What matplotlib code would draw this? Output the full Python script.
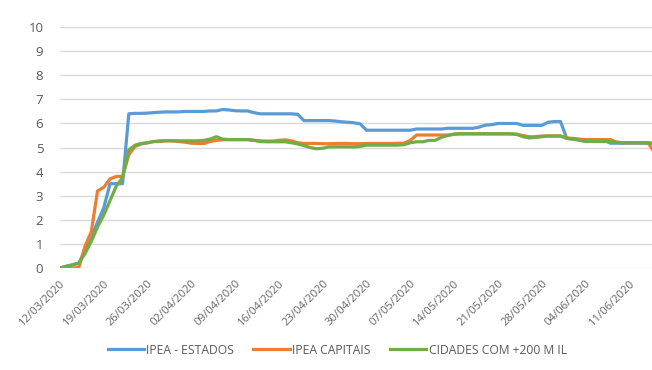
import numpy as np
import pandas as pd
import matplotlib
matplotlib.use("Agg")
import matplotlib.pyplot as plt

# daily series, 12/03/2020 .. 15/06/2020
dates = pd.date_range("2020-03-12", "2020-06-15", freq="D")

ipea_estados = [
    0.0, 0.07, 0.13, 0.2, 0.7, 1.3, 1.9, 2.5, 3.5, 3.5,
    3.5, 6.4, 6.42, 6.42, 6.43, 6.45, 6.47, 6.48, 6.48, 6.48,
    6.5, 6.5, 6.5, 6.5, 6.52, 6.52, 6.58, 6.56, 6.53, 6.52,
    6.52, 6.45, 6.4, 6.4, 6.4, 6.4, 6.4, 6.4, 6.38, 6.12,
    6.12, 6.12, 6.12, 6.12, 6.1, 6.07, 6.05, 6.03, 5.98, 5.72,
    5.72, 5.72, 5.72, 5.72, 5.72, 5.72, 5.72, 5.77, 5.77, 5.77,
    5.77, 5.77, 5.8, 5.8, 5.8, 5.8, 5.8, 5.85, 5.93, 5.95,
    6.0, 6.0, 6.0, 6.0, 5.92, 5.92, 5.92, 5.92, 6.05, 6.08,
    6.08, 5.38, 5.36, 5.33, 5.3, 5.3, 5.3, 5.3, 5.18, 5.18,
    5.18, 5.18, 5.18, 5.18, 5.18, 5.18,
]

ipea_capitais = [
    0.0, 0.0, 0.0, 0.02, 0.9, 1.5, 3.2, 3.35, 3.7, 3.8,
    3.8, 4.7, 5.05, 5.15, 5.2, 5.25, 5.25, 5.28, 5.28, 5.25,
    5.22, 5.18, 5.17, 5.17, 5.25, 5.3, 5.32, 5.33, 5.33, 5.33,
    5.33, 5.3, 5.28, 5.27, 5.27, 5.3, 5.32, 5.28, 5.2, 5.17,
    5.17, 5.17, 5.16, 5.16, 5.17, 5.17, 5.17, 5.16, 5.16, 5.17,
    5.17, 5.17, 5.17, 5.17, 5.18, 5.18, 5.3, 5.52, 5.52, 5.52,
    5.52, 5.52, 5.52, 5.55, 5.57, 5.57, 5.57, 5.57, 5.57, 5.57,
    5.57, 5.57, 5.57, 5.55, 5.5, 5.45, 5.45, 5.48, 5.48, 5.48,
    5.48, 5.4, 5.38, 5.35, 5.33, 5.33, 5.33, 5.33, 5.33, 5.22,
    5.2, 5.2, 5.2, 5.2, 5.2, 4.8,
]

cidades_200mil = [
    0.0, 0.07, 0.13, 0.2, 0.6, 1.1, 1.7, 2.2, 2.8, 3.4,
    3.75, 4.9, 5.1, 5.17, 5.2, 5.25, 5.28, 5.28, 5.28, 5.28,
    5.28, 5.28, 5.28, 5.3, 5.35, 5.45, 5.35, 5.33, 5.33, 5.33,
    5.33, 5.3, 5.25, 5.24, 5.24, 5.24, 5.24, 5.2, 5.15, 5.08,
    5.0, 4.95, 4.97, 5.03, 5.03, 5.03, 5.03, 5.03, 5.05, 5.1,
    5.1, 5.1, 5.1, 5.1, 5.1, 5.12, 5.2, 5.24, 5.24, 5.3,
    5.3, 5.43, 5.5, 5.56, 5.57, 5.57, 5.57, 5.57, 5.57, 5.57,
    5.57, 5.57, 5.57, 5.55, 5.45, 5.4, 5.42, 5.45, 5.48, 5.48,
    5.48, 5.38, 5.35, 5.3, 5.25, 5.25, 5.25, 5.25, 5.25, 5.22,
    5.2, 5.2, 5.2, 5.2, 5.2, 5.15,
]

labels = ["IPEA - ESTADOS", "IPEA CAPITAIS", "CIDADES COM +200 M IL"]
colors = ["#5B9BD5", "#ED7D31", "#70AD47"]

plt.rcParams["font.family"] = ["Open Sans", "DejaVu Sans"]

fig = plt.figure(figsize=(6.52, 3.70), dpi=100)
ax = fig.add_axes([0.092, 0.2757, 0.914, 0.651])

for vals, lab, col in zip([ipea_estados, ipea_capitais, cidades_200mil], labels, colors):
  ax.plot(dates, vals, color=col, lw=2.3, label=lab, solid_joinstyle="round")

ax.set_ylim(0, 10)
ax.set_yticks(range(0, 11))
ax.set_xlim(dates[0], dates[-1] + pd.Timedelta(hours=6))
ticks = dates[::7]
ax.set_xticks(ticks)
ax.set_xticklabels([d.strftime("%d/%m/%Y") for d in ticks], rotation=45, ha="right",
                   rotation_mode="anchor", fontsize=8.1, color="#666666")
ax.tick_params(axis="y", labelsize=9.5, labelcolor="#595959", length=0, pad=12)
ax.tick_params(axis="x", length=0, pad=7)
ax.grid(axis="y", color="#d9d9d9", lw=1)
ax.set_axisbelow(True)
for s in ax.spines.values():
  s.set_visible(False)

fig.legend(loc="center", bbox_to_anchor=(0.517, 0.054), ncol=3, frameon=False,
           fontsize=8.7, handlelength=3.0, handletextpad=0.2, columnspacing=1.6,
           labelcolor="#595959")

fig.savefig("out.png", dpi=100)
